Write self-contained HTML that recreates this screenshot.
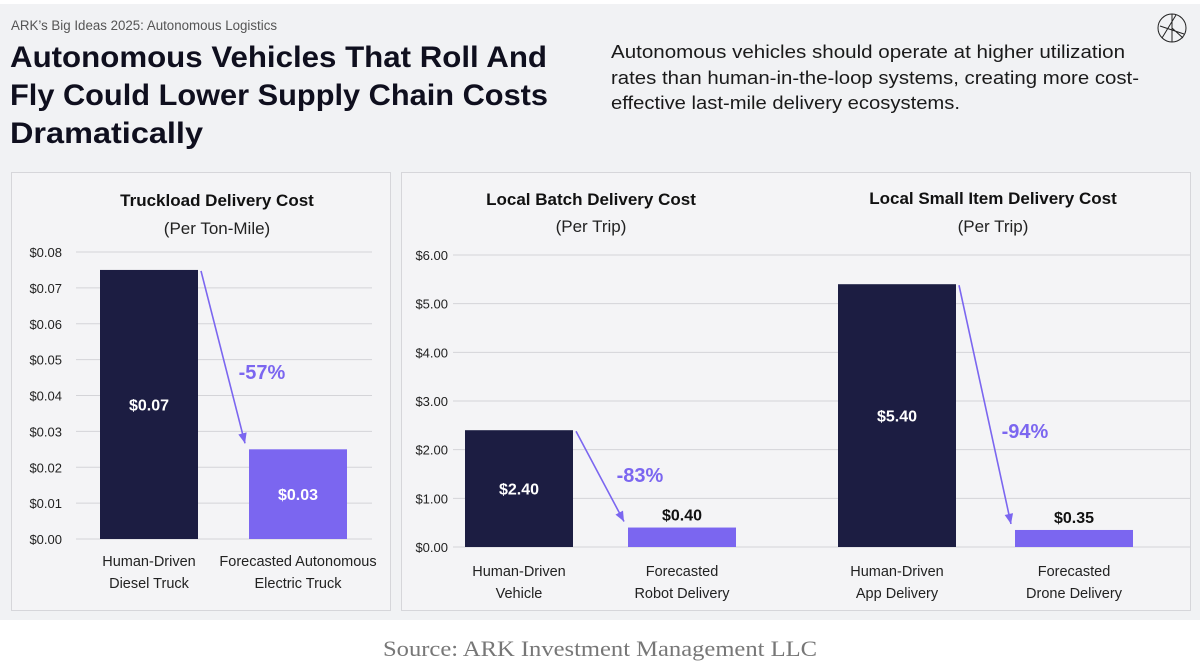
<!DOCTYPE html>
<html><head><meta charset="utf-8"><style>
html,body{margin:0;padding:0;background:#fff;}
svg{display:block;font-family:"Liberation Sans",sans-serif;}
</style></head><body>
<svg id="c" width="1200" height="669" viewBox="0 0 1200 669" xmlns="http://www.w3.org/2000/svg">
<rect x="0" y="4" width="1200" height="616" fill="#f1f2f4"/>
<text x="11" y="30" font-size="13.5" fill="#555" textLength="266" lengthAdjust="spacingAndGlyphs">ARK’s Big Ideas 2025: Autonomous Logistics</text>
<g font-size="30" font-weight="bold" fill="#0f0f1e">
<text x="10" y="67" textLength="537" lengthAdjust="spacingAndGlyphs">Autonomous Vehicles That Roll And</text>
<text x="10" y="105" textLength="538" lengthAdjust="spacingAndGlyphs">Fly Could Lower Supply Chain Costs</text>
<text x="10" y="143" textLength="193" lengthAdjust="spacingAndGlyphs">Dramatically</text>
</g>
<g font-size="18" fill="#1a1a1a">
<text x="611" y="58" textLength="514" lengthAdjust="spacingAndGlyphs">Autonomous vehicles should operate at higher utilization</text>
<text x="611" y="84" textLength="528" lengthAdjust="spacingAndGlyphs">rates than human-in-the-loop systems, creating more cost-</text>
<text x="611" y="109" textLength="349" lengthAdjust="spacingAndGlyphs">effective last-mile delivery ecosystems.</text>
</g>
<g stroke="#222" fill="none" stroke-width="1">
<circle cx="1172" cy="28" r="14"/>
<path d="M1162 38 L1176 15 M1172 14 L1172 42 M1160 26 L1184 34 M1172 28 L1183 38"/>
</g>
<rect x="11.5" y="172.5" width="379" height="438" fill="#f4f4f6" stroke="#d6d6da"/>
<rect x="401.5" y="172.5" width="789" height="438" fill="#f4f4f6" stroke="#d6d6da"/>
<g font-weight="bold" font-size="17" fill="#111" text-anchor="middle">
<text x="217" y="206">Truckload Delivery Cost</text>
<text x="591" y="205">Local Batch Delivery Cost</text>
<text x="993" y="204">Local Small Item Delivery Cost</text>
</g>
<g font-size="17" fill="#222" text-anchor="middle">
<text x="217" y="234">(Per Ton-Mile)</text>
<text x="591" y="232">(Per Trip)</text>
<text x="993" y="232">(Per Trip)</text>
</g>
<g id="plot"></g>
<text x="600" y="656" font-family="Liberation Serif,serif" font-size="22" fill="#777" text-anchor="middle" textLength="434" lengthAdjust="spacingAndGlyphs">Source: ARK Investment Management LLC</text>
</svg>
<script>
// Panel 1 data
const truckTicks = [0, 0.01, 0.02, 0.03, 0.04, 0.05, 0.06, 0.07, 0.08];
const truckCats = [["Human-Driven", "Diesel Truck"], ["Forecasted Autonomous", "Electric Truck"]];
const truckValues = [0.075, 0.025];
const truckLabels = ["$0.07", "$0.03"];
const truckPct = "-57%";
// Panel 2 data
const localTicks = [0, 1, 2, 3, 4, 5, 6];
const batchCats = [["Human-Driven", "Vehicle"], ["Forecasted", "Robot Delivery"]];
const batchValues = [2.4, 0.4];
const batchLabels = ["$2.40", "$0.40"];
const batchPct = "-83%";
const smallCats = [["Human-Driven", "App Delivery"], ["Forecasted", "Drone Delivery"]];
const smallValues = [5.4, 0.35];
const smallLabels = ["$5.40", "$0.35"];
const smallPct = "-94%";

const NS = "http://www.w3.org/2000/svg";
const plot = document.getElementById("plot");
function mk(tag, attrs, txt) {
  const e = document.createElementNS(NS, tag);
  for (const k in attrs) e.setAttribute(k, attrs[k]);
  if (txt !== undefined) e.textContent = txt;
  plot.appendChild(e);
  return e;
}
const DARK = "#1c1d42", PURP = "#7b66f0";

function yScale(y0, y1, max) { return v => y0 - (v / max) * (y0 - y1); }

// Panel 1
const y1 = yScale(539, 252, 0.08);
truckTicks.forEach(t => {
  const g = mk("line", {x1: 76, x2: 372, y1: y1(t), y2: y1(t), stroke: "#d4d4d8", "stroke-width": 1});
  
  
  const l = mk("text", {x: 62, y: y1(t) + 5, "font-size": 13, fill: "#222", "text-anchor": "end"}, "$" + t.toFixed(2));
  
  
});
const truckX = [100, 249], truckW = 98;

// Panel 2
const y2 = yScale(547, 255, 6);
localTicks.forEach(t => {
  const g = mk("line", {x1: 453, x2: 1190, y1: y2(t), y2: y2(t), stroke: "#d4d4d8", "stroke-width": 1});
  
  
  const l = mk("text", {x: 448, y: y2(t) + 5, "font-size": 13, fill: "#222", "text-anchor": "end"}, "$" + t.toFixed(2));
  
  
});

function drawPair(ys, xs, w, vals, labels, cats, pct, pctPos, name, insideSecond, catY) {
  const base = ys(0);
  vals.forEach((v, i) => {
    const top = ys(v);
    const b = mk("rect", {x: xs[i], y: top, width: w, height: base - top, fill: i === 0 ? DARK : PURP});
    
    
    const cx = xs[i] + w / 2;
    let ty, fill;
    if (i === 0 || insideSecond) { ty = (top + base) / 2 + 6; fill = "#fff"; }
    else { ty = top - 7; fill = "#111"; }
    const t = mk("text", {x: cx, y: ty, "font-size": 16, "font-weight": "bold", fill: fill, "text-anchor": "middle"}, labels[i]);
    
    
    cats[i].forEach((ln, j) => {
      const c = mk("text", {x: cx, y: catY + j * 22, "font-size": 14.5, fill: "#222", "text-anchor": "middle"}, ln);
      
      
    });
  });
  // arrow
  const ax1 = xs[0] + w + 3, ay1 = ys(vals[0]) + 1;
  const ax2 = xs[1] - 4, ay2 = ys(vals[1]) - 6;
  const ln = mk("line", {x1: ax1, y1: ay1, x2: ax2, y2: ay2, stroke: PURP, "stroke-width": 1.6});
  
  
  const ang = Math.atan2(ay2 - ay1, ax2 - ax1), L = 11, s = 0.4;
  const p = [ax2, ay2, ax2 - L * Math.cos(ang - s), ay2 - L * Math.sin(ang - s), ax2 - L * Math.cos(ang + s), ay2 - L * Math.sin(ang + s)];
  const hd = mk("polygon", {points: p.join(" "), fill: PURP});
  
  
  const pt = mk("text", {x: pctPos[0], y: pctPos[1], "font-size": 20, "font-weight": "bold", fill: PURP, "text-anchor": "middle"}, pct);
  
  
}
drawPair(y1, truckX, truckW, truckValues, truckLabels, truckCats, truckPct, [262, 379], "truck", true, 566);
drawPair(y2, [465, 628], 108, batchValues, batchLabels, batchCats, batchPct, [640, 482], "batch", false, 576);
drawPair(y2, [838, 1015], 118, smallValues, smallLabels, smallCats, smallPct, [1025, 438], "small", false, 576);
</script>
</body></html>
